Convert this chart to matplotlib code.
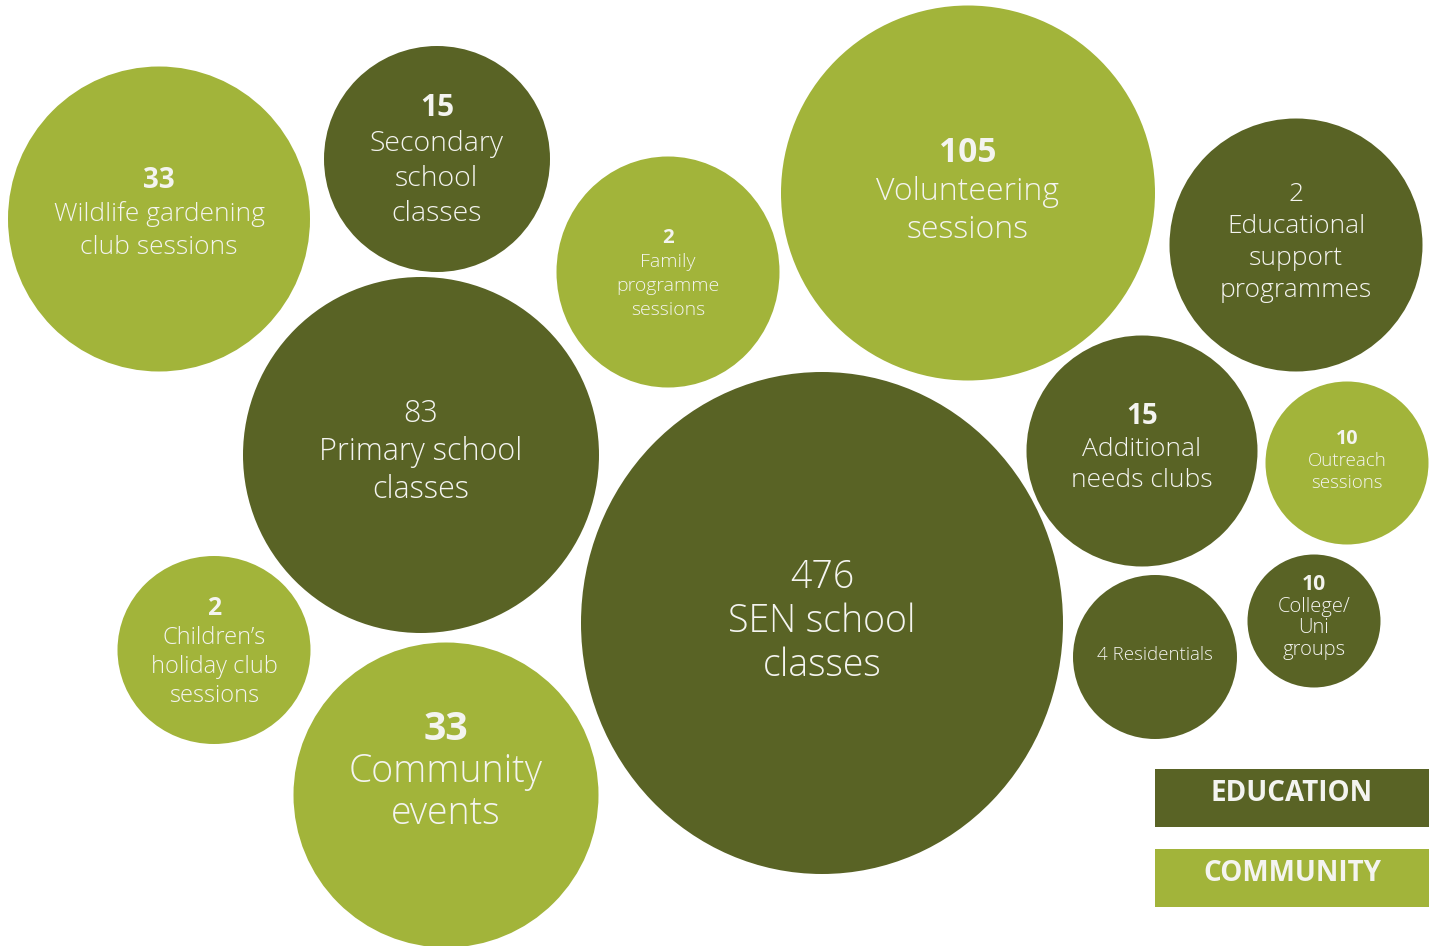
import matplotlib
matplotlib.use("Agg")
import matplotlib.pyplot as plt
from matplotlib.patches import Ellipse, Rectangle

plt.rcParams['font.family'] = ['Open Sans', 'DejaVu Sans']

# data
values = ['33', '15', '2', '105', '2', '83', '476', '15', '10', '2', '33', '4', '10']
labels = [
    ['Wildlife gardening', 'club sessions'],
    ['Secondary', 'school', 'classes'],
    ['Family', 'programme', 'sessions'],
    ['Volunteering', 'sessions'],
    ['Educational', 'support', 'programmes'],
    ['Primary school', 'classes'],
    ['SEN school', 'classes'],
    ['Additional', 'needs clubs'],
    ['Outreach', 'sessions'],
    ['Children\u2019s', 'holiday club', 'sessions'],
    ['Community', 'events'],
    ['Residentials'],
    ['College/', 'Uni', 'groups'],
]
groups = ['COMMUNITY', 'EDUCATION', 'COMMUNITY', 'COMMUNITY', 'EDUCATION', 'EDUCATION',
          'EDUCATION', 'EDUCATION', 'COMMUNITY', 'COMMUNITY', 'COMMUNITY', 'EDUCATION', 'EDUCATION']
bold_value = [True, True, True, True, False, False, False, True, True, True, True, False, True]

# layout (pixels)
cx = [159, 437, 668, 968, 1296, 421, 822, 1142, 1347, 214, 446, 1155, 1314]
cy = [219, 159, 272, 193, 245, 455, 623, 451, 463, 650, 795, 657, 621]
wd = [302, 226, 223, 374, 253, 356, 482, 231, 163, 193, 305, 164, 133]
ht = [305, 226, 231, 375, 253, 356, 502, 231, 163, 188, 305, 164, 133]
fsize = [19, 20.5, 14, 23, 19, 22, 27, 19, 13.5, 17, 27, 13.5, 14.5]
first_base = [188, 116, 243, 162, 201, 422, 588, 424, 444, 615, 740, 660, 590]
spacing = [33, 35, 24, 38, 32, 38, 44, 31.5, 22, 29, 42, 0, 21.5]

colors = {'EDUCATION': '#596325', 'COMMUNITY': '#a2b43a'}
txt_col = '#f4f4f0'

fig = plt.figure(figsize=(14.38, 9.46), dpi=100)
ax = fig.add_axes([0, 0, 1, 1])
ax.set_xlim(0, 1438)
ax.set_ylim(946, 0)
ax.axis('off')

for i in range(len(values)):
    ax.add_patch(Ellipse((cx[i], cy[i]), wd[i], ht[i], color=colors[groups[i]], lw=0))
    wt = 'bold' if bold_value[i] else 'light'
    if len(labels[i]) == 1:
        # single line: value and label together
        ax.text(cx[i], first_base[i], values[i] + ' ' + labels[i][0], ha='center', va='baseline',
                fontsize=fsize[i], color=txt_col, fontweight='light')
        continue
    vs = fsize[i] * 1.05 if bold_value[i] else fsize[i]
    ax.text(cx[i], first_base[i], values[i], ha='center', va='baseline',
            fontsize=vs, color=txt_col, fontweight=wt)
    for j, line in enumerate(labels[i]):
        ax.text(cx[i], first_base[i] + spacing[i] * (j + 1), line, ha='center', va='baseline',
                fontsize=fsize[i], color=txt_col, fontweight='light')

# legend boxes
legend_names = ['EDUCATION', 'COMMUNITY']
legend_y = [769, 849]
for name, y in zip(legend_names, legend_y):
    ax.add_patch(Rectangle((1155, y), 274, 58, color=colors[name], lw=0))
    ax.text(1292, y + 32, name, ha='center', va='baseline', fontsize=20,
            color=txt_col, fontweight='bold')

fig.savefig('out.png', dpi=100)
